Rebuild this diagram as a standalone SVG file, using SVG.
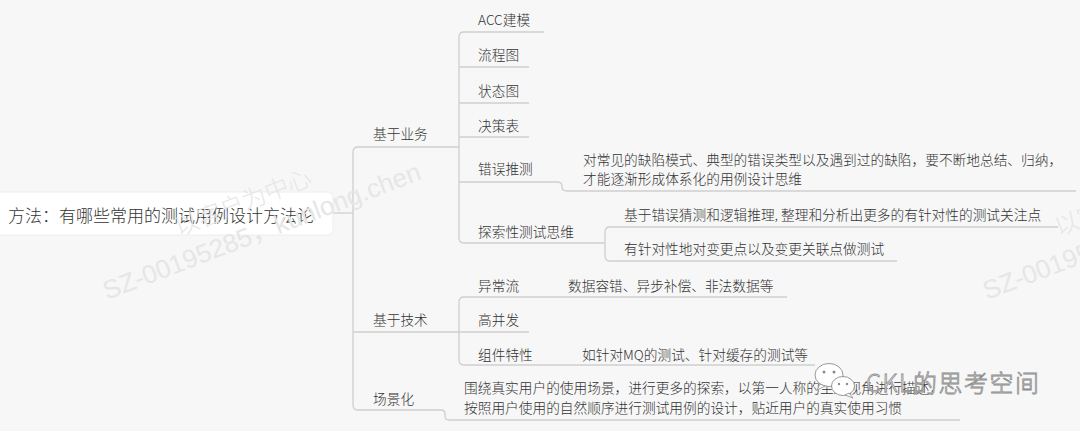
<svg xmlns="http://www.w3.org/2000/svg" width="1080" height="431" viewBox="0 0 1080 431">
<style>
.t{font-family:"Noto Sans CJK SC","Liberation Sans",sans-serif;font-size:13.7px;font-weight:300;fill:#333333}
.root{font-family:"Noto Sans CJK SC","Liberation Sans",sans-serif;font-size:17px;font-weight:300;fill:#333333}
.ln{fill:none;stroke:#cfcfcf;stroke-width:1.3}
.wm{font-family:"Liberation Sans","Noto Sans CJK SC",sans-serif;font-size:26px;fill:#e6e6e6}
.wmc{font-family:"Noto Sans CJK SC",sans-serif;font-size:24px;font-weight:300;fill:#e6e6e6}
.logo{font-family:"Noto Sans CJK SC","Liberation Sans",sans-serif;font-size:24px;font-weight:300;fill:#ffffff;stroke:#8c8c8c;stroke-width:0.8;letter-spacing:1.5px}
</style>
<rect width="1080" height="431" fill="#f7f7f7"/>

<g id="connectors">
<path class="ln" d="M333,213 H353"/>
<path class="ln" d="M459,147 H358 Q353,147 353,152 V405 Q353,410 358,410 H441 Q445,410 445,414 V416 Q445,420 449,420 H960"/>
<path class="ln" d="M353,332 H529"/>
<path class="ln" d="M544,32 H464 Q459,32 459,37 V238 Q459,243 464,243 H605"/>
<path class="ln" d="M459,67 H529 M459,103 H529 M459,137 H529"/>
<path class="ln" d="M459,182 H557 Q562,182 562,186 V187 Q562,191 567,191 H1076"/>
<path class="ln" d="M1058,227 H610 Q605,227 605,232 V256 Q605,261 610,261 H897"/>
<path class="ln" d="M787,297 H464 Q459,297 459,302 V360 Q459,365 464,365 H815"/>
</g>

<g id="root">
<rect x="-10" y="192" width="343" height="43" rx="6" fill="#ffffff" stroke="#eeeeee"/>
<text class="root" x="8" y="222">方法：有哪些常用的测试用例设计方法论</text>
</g>

<g id="n-business"><text class="t" x="373" y="139">基于业务</text></g>
<g id="n-tech"><text class="t" x="373" y="325">基于技术</text></g>
<g id="n-scene"><text class="t" x="373" y="404">场景化</text></g>

<g id="n-acc"><text class="t" x="478" y="25">ACC建模</text></g>
<g id="n-flow"><text class="t" x="478" y="60">流程图</text></g>
<g id="n-state"><text class="t" x="478" y="96">状态图</text></g>
<g id="n-decision"><text class="t" x="478" y="131">决策表</text></g>
<g id="n-guess"><text class="t" x="478" y="174">错误推测</text></g>
<g id="n-guess-d"><text class="t" x="583" y="165">对常见的缺陷模式、典型的错误类型以及遇到过的缺陷，要不断地总结、归纳，</text><text class="t" x="583" y="184">才能逐渐形成体系化的用例设计思维</text></g>
<g id="n-explore"><text class="t" x="478" y="237">探索性测试思维</text></g>
<g id="n-explore-1"><text class="t" x="624" y="220">基于错误猜测和逻辑推理, 整理和分析出更多的有针对性的测试关注点</text></g>
<g id="n-explore-2"><text class="t" x="624" y="254">有针对性地对变更点以及变更关联点做测试</text></g>

<g id="n-exc"><text class="t" x="478" y="291">异常流</text></g>
<g id="n-exc-d"><text class="t" x="568" y="291">数据容错、异步补偿、非法数据等</text></g>
<g id="n-conc"><text class="t" x="478" y="325">高并发</text></g>
<g id="n-comp"><text class="t" x="478" y="360">组件特性</text></g>
<g id="n-comp-d"><text class="t" x="582" y="360">如针对MQ的测试、针对缓存的测试等</text></g>
<g id="n-scene-d"><text class="t" x="464" y="393">围绕真实用户的使用场景，进行更多的探索，以第一人称的主观视角进行描述，</text><text class="t" x="464" y="413">按照用户使用的自然顺序进行测试用例的设计，贴近用户的真实使用习惯</text></g>

<g id="watermarks">
<g transform="translate(107,300) rotate(-21)"><text class="wmc" x="90" y="-34">以客户为中心</text><text class="wm" x="0" y="0">SZ-00195285，kunlong.chen</text></g>
<g transform="translate(987,300) rotate(-21)"><text class="wmc" x="90" y="-34">以客户为中心</text><text class="wm" x="0" y="0">SZ-00195285，kunlong.chen</text></g>
</g>

<g id="logo">
<ellipse cx="829" cy="375" rx="14" ry="11.5" fill="#ffffff" stroke="#8c8c8c" stroke-width="0.9"/>
<path d="M820,384 L817,390 L825,386 Z" fill="#ffffff" stroke="#8c8c8c" stroke-width="0.8"/>
<circle cx="824" cy="372" r="1.5" fill="#8c8c8c"/><circle cx="834" cy="372" r="1.5" fill="#8c8c8c"/>
<ellipse cx="843" cy="386" rx="11.5" ry="9.5" fill="#ffffff" stroke="#8c8c8c" stroke-width="0.9"/>
<path d="M849,393 L853,398 L845,395 Z" fill="#ffffff" stroke="#8c8c8c" stroke-width="0.8"/>
<circle cx="839" cy="384" r="1.2" fill="#8c8c8c"/><circle cx="847" cy="384" r="1.2" fill="#8c8c8c"/>
<text class="logo" x="866" y="392">CKL的思考空间</text>
</g>
</svg>
